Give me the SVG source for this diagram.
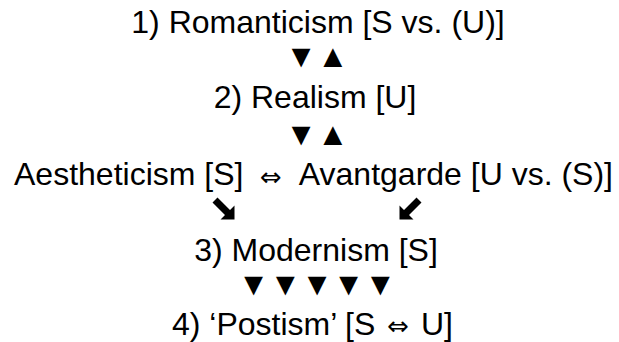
<svg xmlns="http://www.w3.org/2000/svg" width="619" height="342" viewBox="0 0 619 342">
<style>
.t{font-family:"Liberation Sans",Arial,sans-serif;font-size:32px;fill:#000;text-anchor:middle}
.s{font-family:"DejaVu Sans",sans-serif;fill:#000;text-anchor:middle}
</style>
<defs>
<path id="se" d="M5,0 L17.5,12.5 L22,8 L22,22 L8,22 L12.5,17.5 L0,5 Z" fill="#000"/>
</defs>
<rect width="619" height="342" fill="#fff"/>
<g id="romanticism"><text class="t" x="318" y="33">1) Romanticism [S vs. (U)]</text></g>
<g id="realism"><text class="t" x="315" y="108">2) Realism [U]</text></g>
<g id="aestheticism"><text class="t" x="14" y="185" style="text-anchor:start">Aestheticism [S]</text></g>
<g id="avantgarde"><text class="t" x="613" y="185" style="text-anchor:end">Avantgarde [U vs. (S)]</text></g>
<g id="modernism"><text class="t" x="316" y="261">3) Modernism [S]</text></g>
<g id="postism"><text class="t" x="172" y="335" style="text-anchor:start">4) ‘Postism’ [S <tspan class="s" dx="3" style="font-size:26px;text-anchor:start">⇔</tspan><tspan dx="3"> U]</tspan></text></g>
<g id="connectors">
<text class="t" x="317" y="67">▼▲</text>
<text class="t" x="317" y="145">▼▲</text>
<text class="s" x="271" y="186" style="font-size:26px">⇔</text>
<use href="#se" transform="translate(212.5,197.5)"/>
<use href="#se" transform="translate(421.5,197.5) scale(-1,1)"/>
<text class="t" x="317" y="295">▼▼▼▼▼</text>
</g>
</svg>
